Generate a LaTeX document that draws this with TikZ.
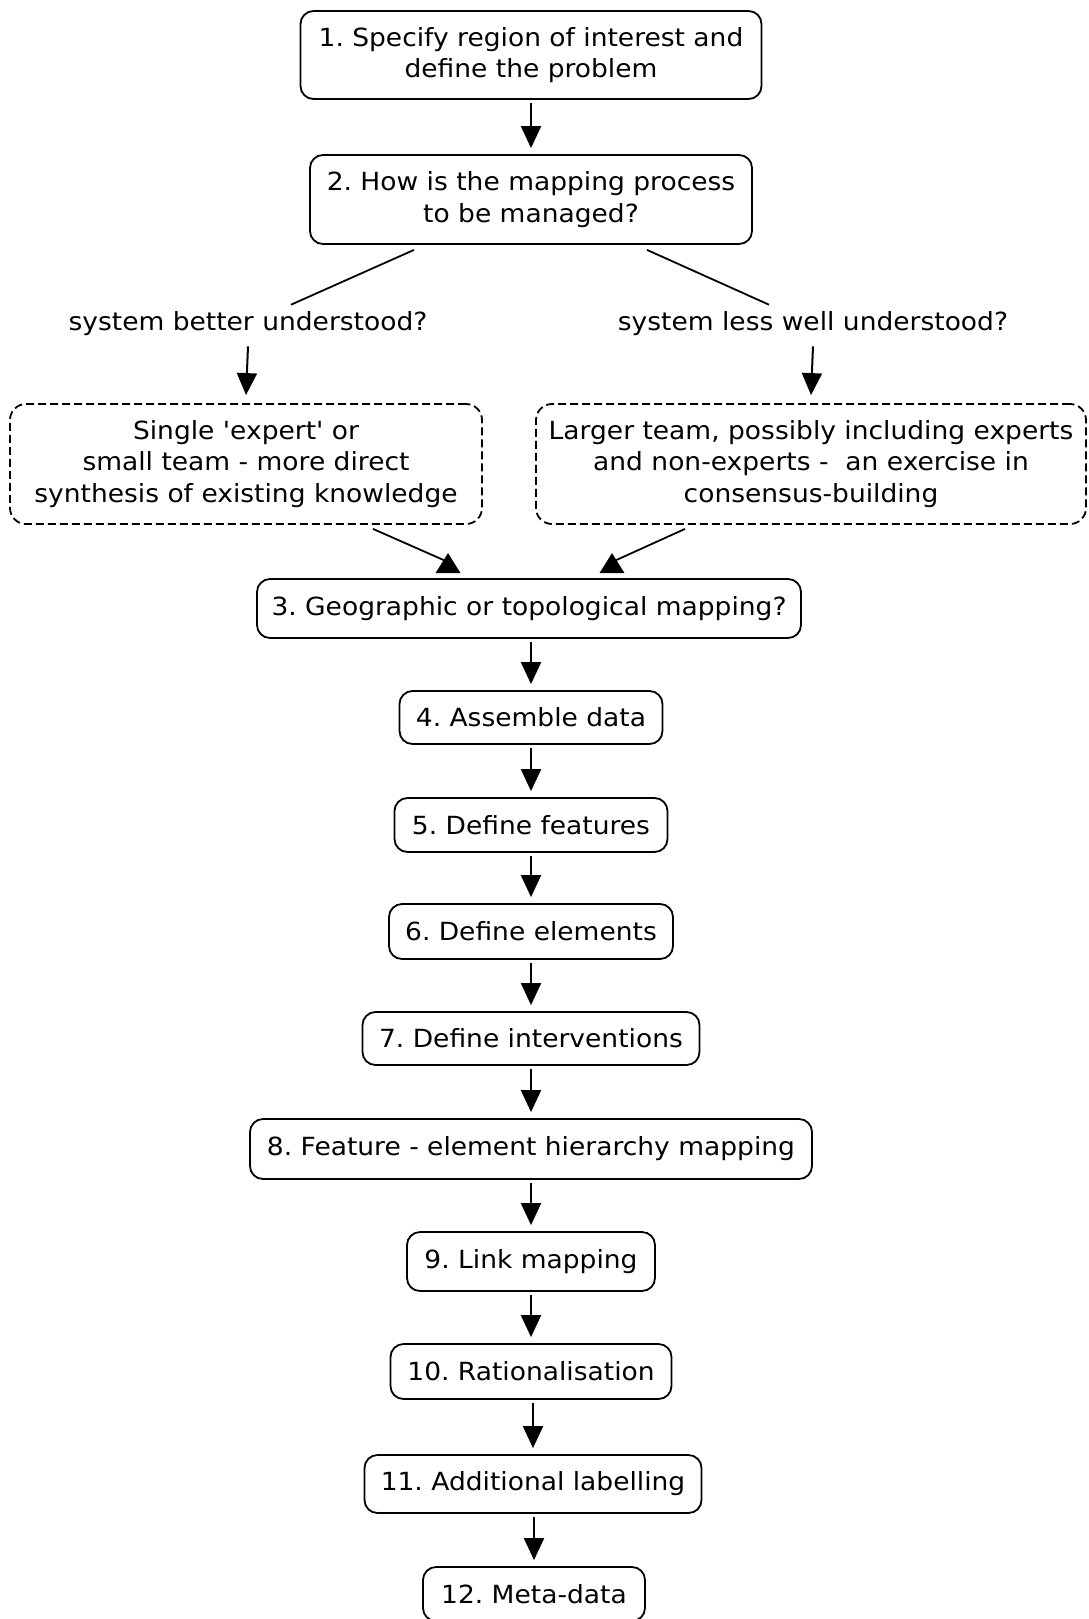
\documentclass[tikz,border=0pt]{standalone}
\usepackage{fontspec}
\newfontfamily\vfont{DejaVu Sans}[FakeStretch=1.06]
\usetikzlibrary{arrows.meta,calc}
\begin{document}
\frenchspacing
\begin{tikzpicture}[x=1pt,y=-1pt,
  every node/.style={font=\vfont\fontsize{25}{31.5}\selectfont\frenchspacing, align=center, inner sep=0pt},
  stepbox/.style={draw, line width=1.8pt, rounded corners=13pt},
  dashbox/.style={draw, line width=1.8pt, rounded corners=16pt, dash pattern=on 8pt off 4pt},
  arr/.style={line width=2pt, -{Triangle[width=20pt,length=22pt]}},
  plain/.style={line width=1.8pt}]
\useasboundingbox (0,0) rectangle (1088,1619);
\clip (0,0) rectangle (1088,1619);
% boxes
\node[stepbox, minimum width=461pt, minimum height=88pt] (b1) at (531,55) {1. Specify region of interest and\\define the problem};
\node[stepbox, minimum width=442pt, minimum height=89pt] (b2) at (531,199.5) {2. How is the mapping process\\to be managed?};
\node (lL) at (248,324) {system better understood?};
\node (lR) at (813,324) {system less well understood?};
\node[dashbox, minimum width=472pt, minimum height=120pt] (dL) at (246,464) {Single 'expert' or\\small team - more direct\\synthesis of existing knowledge};
\node[dashbox, minimum width=550pt, minimum height=120pt] (dR) at (811,464) {Larger team, possibly including experts\\and non-experts - \ an exercise in\\consensus-building};
\node[stepbox, minimum width=544pt, minimum height=59pt] (b3) at (529,608.5) {3. Geographic or topological mapping?};
\node[stepbox, minimum width=263pt, minimum height=53pt] (b4) at (531,717.5) {4. Assemble data};
\node[stepbox, minimum width=273pt, minimum height=54pt] (b5) at (531,825) {5. Define features};
\node[stepbox, minimum width=284pt, minimum height=55pt] (b6) at (531,931.5) {6. Define elements};
\node[stepbox, minimum width=337pt, minimum height=53pt] (b7) at (531,1038.5) {7. Define interventions};
\node[stepbox, minimum width=562pt, minimum height=60pt] (b8) at (531,1149) {8. Feature - element hierarchy mapping};
\node[stepbox, minimum width=248pt, minimum height=59pt] (b9) at (531,1261.5) {9. Link mapping};
\node[stepbox, minimum width=281pt, minimum height=55pt] (b10) at (531,1371.5) {10. Rationalisation};
\node[stepbox, minimum width=337pt, minimum height=58pt] (b11) at (533,1484) {11. Additional labelling};
\node[stepbox, minimum width=222pt, minimum height=54pt] (b12) at (534,1594) {12. Meta-data};
% connectors
\draw[arr] ($(b2.north |- b1.south)+(0,3)$) -- ($(b2.north)+(0,-6)$);
\draw[plain] ($(b2.south)+(-117,5)$) -- ($(lL.north)+(43,-7)$);
\draw[plain] ($(b2.south)+(116,5)$) -- ($(lR.north)+(-44,-7)$);
\draw[arr] ($(lL.south)+(0,10)$) -- ($(dL.north)+(0,-8)$);
\draw[arr] ($(lR.south)+(0,10)$) -- ($(dR.north)+(0,-8)$);
% incoming connectors to box 3 with upright triangle heads
\coordinate (tL) at ($(b3.north)+(-81,-25)$);
\coordinate (tR) at ($(b3.north)+(83,-25)$);
\draw[plain] ($(dL.south)+(127,4)$) -- ($(tL)+(-2,8)$);
\draw[plain] ($(dR.south)+(-126,4)$) -- ($(tR)+(2,8)$);
\fill (tL) -- ($(tL)+(12.5,20)$) -- ($(tL)+(-12.5,20)$) -- cycle;
\fill (tR) -- ($(tR)+(12.5,20)$) -- ($(tR)+(-12.5,20)$) -- cycle;
\foreach \a/\b in {b3/b4,b4/b5,b5/b6,b6/b7,b7/b8,b8/b9,b9/b10,b10/b11,b11/b12}
  \draw[arr] ($(\b.north |- \a.south)+(0,3)$) -- ($(\b.north)+(0,-6)$);
\end{tikzpicture}
\end{document}
